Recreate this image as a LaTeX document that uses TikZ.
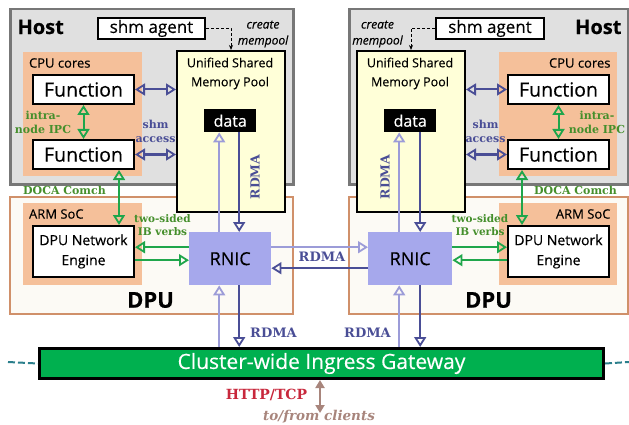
\documentclass[tikz,border=0pt]{standalone}
\usepackage{fontspec}
\setmainfont{Open Sans}[FakeBold=0.3]
\newfontfamily\labelfont{DejaVu Serif}
\usetikzlibrary{arrows.meta,positioning}

\definecolor{hostgray}{HTML}{E0E0E0}
\definecolor{hostline}{HTML}{777777}
\definecolor{peach}{HTML}{F5C09A}
\definecolor{poolyellow}{HTML}{FFFFD8}
\definecolor{dpucream}{HTML}{FCFAF5}
\definecolor{dpuline}{HTML}{D0906A}
\definecolor{rnicblue}{HTML}{A6A8EC}
\definecolor{navy}{HTML}{4A4E96}
\definecolor{lavender}{HTML}{9C9CD8}
\definecolor{arrowgreen}{HTML}{1FA64B}
\definecolor{textgreen}{HTML}{458F2C}
\definecolor{gwgreen}{HTML}{00B04F}
\definecolor{teal}{HTML}{2B7F8C}
\definecolor{httpred}{HTML}{C8283C}
\definecolor{clientbrown}{HTML}{A8857C}

\def\fs#1{\fontsize{#1}{#1}\selectfont}

\tikzset{openhead/.tip={Triangle[open,length=10pt,width=12pt,line width=1.8pt]},
         brownhead/.tip={Triangle[length=8pt,width=9pt]}}

\begin{document}
\begin{tikzpicture}[x=1pt, y=-1pt]
      \tikzstyle{box}=[rectangle, anchor=north west, inner sep=0pt]
      \tikzstyle{host box}=[box, fill=hostgray, draw=hostline, line width=2.5pt]
      \tikzstyle{dpu box}=[box, fill=dpucream, draw=dpuline, line width=2pt]
      \tikzstyle{core box}=[box, fill=peach]
      \tikzstyle{white box}=[box, fill=white, draw=black, line width=2pt, align=center]
      \tikzstyle{pool box}=[box, fill=poolyellow, draw=black, line width=2pt]
      \tikzstyle{data box}=[box, fill=black, text=white]
      \tikzstyle{rnic box}=[box, fill=rnicblue]
      \tikzstyle{annot}=[inner sep=0pt, align=center, font=\labelfont\bfseries\fs{10.5}]
      \tikzstyle{shm link}=[openhead-openhead, navy, line width=2pt]
      \tikzstyle{ipc link}=[openhead-openhead, arrowgreen, line width=2pt]
      \tikzstyle{ib link}=[-openhead, arrowgreen, line width=2pt]
      \tikzstyle{dark link}=[-openhead, navy, line width=2pt]
      \tikzstyle{light link}=[-openhead, lavender, line width=2pt]

      \useasboundingbox (0,0) rectangle (629,425);

      % Hosts and DPUs
      \node[host box, minimum width=283pt, minimum height=175pt] (hostL) at (9,8) {};
      \node[host box, minimum width=279pt, minimum height=175pt] (hostR) at (348,8) {};
      \node[dpu box, minimum width=283pt, minimum height=117pt] (dpuL) at (9,196) {};
      \node[dpu box, minimum width=279pt, minimum height=117pt] (dpuR) at (348,196) {};

      % CPU cores and ARM SoC
      \node[core box, minimum width=119pt, minimum height=124pt] (cpuL) at (23,52) {};
      \node[core box, minimum width=118pt, minimum height=124pt] (cpuR) at (499,52) {};
      \node[core box, minimum width=119pt, minimum height=82pt] (armL) at (23,203) {};
      \node[core box, minimum width=118pt, minimum height=82pt] (armR) at (499,203) {};

      % Functions and network engines
      \node[white box, minimum width=101pt, minimum height=29pt, font=\fs{19.5}] (funL1) at (32,74) {Function};
      \node[white box, minimum width=101pt, minimum height=29pt, font=\fs{19.5}] (funL2) at (32,139) {Function};
      \node[white box, minimum width=101pt, minimum height=29pt, font=\fs{19.5}] (funR1) at (507,74) {Function};
      \node[white box, minimum width=101pt, minimum height=29pt, font=\fs{19.5}] (funR2) at (507,139) {Function};
      \node[white box, minimum width=101pt, minimum height=51pt, font=\fontsize{14}{20}\selectfont] (dneL) at (32,225) {DPU Network\\Engine};
      \node[white box, minimum width=101pt, minimum height=51pt, font=\fontsize{14}{20}\selectfont] (dneR) at (507,225) {DPU Network\\Engine};

      % shm agents
      \node[white box, minimum width=107pt, minimum height=21pt, font=\fs{17}] (agentL) at (97,17) {shm agent};
      \node[white box, minimum width=108pt, minimum height=21pt, font=\fs{17}] (agentR) at (435,17) {shm agent};

      % Memory pools
      \node[pool box, minimum width=108pt, minimum height=161pt] (poolL) at (176,50) {};
      \node[pool box, minimum width=108pt, minimum height=161pt] (poolR) at (356,50) {};
      \node[align=center, font=\fontsize{12.5}{19}\selectfont] (titleL) at (230,73.5) {Unified Shared\\Memory Pool};
      \node[align=center, font=\fontsize{12.5}{19}\selectfont] (titleR) at (410,73.5) {Unified Shared\\Memory Pool};
      \node[data box, minimum width=52pt, minimum height=23pt, font=\fs{16}] (dataL) at (204,109) {data};
      \node[data box, minimum width=52pt, minimum height=23pt, font=\fs{16}] (dataR) at (384,109) {data};

      % RNICs
      \node[rnic box, minimum width=82pt, minimum height=53pt, font=\fs{18}] (rnicL) at (189,232) {RNIC};
      \node[rnic box, minimum width=84pt, minimum height=53pt, font=\fs{18}] (rnicR) at (368,232) {RNIC};

      % Gateway
      \node[box, fill=gwgreen, draw=black, line width=3pt, minimum width=564pt, minimum height=30pt,
            text=white, font=\fs{21}] (gw) at (38,347) {Cluster-wide Ingress Gateway};

      % Box titles
      \node[anchor=west, font=\bfseries\fs{20}] (hostlabL) at (14,27) {Host};
      \node[anchor=east, font=\bfseries\fs{20}] (hostlabR) at (625,27) {Host};
      \node[anchor=west, font=\fs{13}] (cpulabL) at (25.5,63) {CPU cores};
      \node[anchor=east, font=\fs{13}] (cpulabR) at (614,63) {CPU cores};
      \node[anchor=west, font=\fs{13}] (armlabL) at (25.5,214) {ARM SoC};
      \node[anchor=east, font=\fs{13}] (armlabR) at (614,214) {ARM SoC};
      \node[font=\bfseries\fs{22}] (dpulabL) at (150.5,300) {DPU};
      \node[font=\bfseries\fs{22}] (dpulabR) at (488.5,300) {DPU};

      % create mempool
      \draw[densely dashed, line width=1pt, -{Stealth[length=5pt,width=4pt]}] (agentL.east) -| (poolL.north);
      \draw[densely dashed, line width=1pt, -{Stealth[length=5pt,width=4pt]}] (agentR.west) -| (poolR.north);
      \node[align=center, font=\itshape\fontsize{12}{16}\selectfont] (mkL) at (263,34) {create\\mempool};
      \node[align=center, font=\itshape\fontsize{12}{16}\selectfont] (mkR) at (377.5,34) {create\\mempool};

      % shm access
      \foreach \f in {funL1, funL2}
          \draw[shm link] (\f.east) -- (\f.east -| poolL.west);
      \foreach \f in {funR1, funR2}
          \draw[shm link] (\f.west) -- (\f.west -| poolR.east);
      \node[annot, navy, font=\labelfont\bfseries\fontsize{11}{14}\selectfont] (shmL) at (155.5,131) {shm\\access};
      \node[annot, navy, font=\labelfont\bfseries\fontsize{11}{14}\selectfont] (shmR) at (485.5,131) {shm\\access};

      % intra-node IPC and DOCA Comch
      \draw[ipc link] (funL1.south) -- (funL2.north);
      \draw[ipc link] (funR1.south) -- (funR2.north);
      \draw[ipc link] ([xshift=35.5pt]funL2.south) -- ([xshift=35.5pt]dneL.north);
      \draw[ipc link] ([xshift=-36.5pt]funR2.south) -- ([xshift=-36.5pt]dneR.north);
      \node[annot, textgreen, font=\labelfont\bfseries\fontsize{11}{14}\selectfont] (ipcL) at (43,122) {intra-\\node IPC};
      \node[annot, textgreen, font=\labelfont\bfseries\fontsize{11}{14}\selectfont] (ipcR) at (597,122) {intra-\\node IPC};
      \node[annot, textgreen, font=\labelfont\bfseries\fs{11}] (docaL) at (64.5,190) {DOCA Comch};
      \node[annot, textgreen, font=\labelfont\bfseries\fs{11}] (docaR) at (575.5,190) {DOCA Comch};

      % two-sided IB verbs
      \draw[ib link] ([yshift=11.5pt]rnicL.west) -- ([yshift=11.5pt]rnicL.west -| dneL.east);
      \draw[ib link] ([yshift=-1.5pt]rnicL.west -| dneL.east) -- ([yshift=-1.5pt]rnicL.west);
      \draw[ib link] ([yshift=11.5pt]rnicR.east) -- ([yshift=11.5pt]rnicR.east -| dneR.west);
      \draw[ib link] ([yshift=-1.5pt]rnicR.east -| dneR.west) -- ([yshift=-1.5pt]rnicR.east);
      \node[annot, textgreen, font=\labelfont\bfseries\fontsize{10.5}{13}\selectfont] (ibL) at (162.5,225.5) {two-sided\\IB verbs};
      \node[annot, textgreen, font=\labelfont\bfseries\fontsize{10.5}{13}\selectfont] (ibR) at (480,225.5) {two-sided\\IB verbs};

      % RDMA between pools and RNICs
      \draw[light link] ([xshift=-11pt]rnicL.north) -- ([xshift=-11pt]rnicL.north |- dataL.south);
      \draw[dark link] ([xshift=9pt]rnicL.north |- dataL.south) -- ([xshift=9pt]rnicL.north);
      \draw[light link] ([xshift=-11pt]rnicR.north) -- ([xshift=-11pt]rnicR.north |- dataR.south);
      \draw[dark link] ([xshift=10pt]rnicR.north |- dataR.south) -- ([xshift=10pt]rnicR.north);
      \node[annot, navy, rotate=90, font=\labelfont\bfseries\fs{12.5}] (rdmaL) at (255,177) {RDMA};
      \node[annot, navy, rotate=90, font=\labelfont\bfseries\fs{12.5}] (rdmaR) at (385,177) {RDMA};

      % RDMA between RNICs
      \draw[light link] ([yshift=11.5pt]rnicL.east) -- ([yshift=11.5pt]rnicL.east -| rnicR.west);
      \draw[dark link] ([yshift=-9.5pt]rnicR.west) -- ([yshift=-9.5pt]rnicR.west -| rnicL.east);
      \node[annot, navy, font=\labelfont\bfseries\fs{13}] (rdmaM) at (322,257) {RDMA};

      % RDMA between RNICs and gateway
      \draw[light link] ([xshift=-11pt]rnicL.south |- gw.north) -- ([xshift=-11pt]rnicL.south);
      \draw[dark link] ([xshift=9pt]rnicL.south) -- ([xshift=9pt]rnicL.south |- gw.north);
      \draw[light link] ([xshift=-11pt]rnicR.south |- gw.north) -- ([xshift=-11pt]rnicR.south);
      \draw[dark link] ([xshift=10pt]rnicR.south) -- ([xshift=10pt]rnicR.south |- gw.north);
      \node[annot, navy, font=\labelfont\bfseries\fs{13}] (rdmaGL) at (273.5,333) {RDMA};
      \node[annot, navy, font=\labelfont\bfseries\fs{13}] (rdmaGR) at (367.5,333) {RDMA};

      % Cluster links and clients
      \coordinate (edgeL) at (8,362);
      \coordinate (edgeR) at (629,362);
      \coordinate (clients) at (320,413);
      \draw[teal, line width=2pt, dash pattern=on 7pt off 3pt] (edgeL) -- (gw.west);
      \draw[teal, line width=2pt, dash pattern=on 7pt off 3pt] (gw.east) -- (edgeR);
      \draw[clientbrown, line width=2.5pt, brownhead-brownhead] (gw.south -| clients) -- (clients);
      \node[annot, httpred, font=\labelfont\bfseries\fs{14}] (http) at (266.5,395) {HTTP/TCP};
      \node[annot, clientbrown, font=\labelfont\bfseries\itshape\fs{13.5}] (cli) at (319,417) {to/from clients};
  \end{tikzpicture}
\end{document}
